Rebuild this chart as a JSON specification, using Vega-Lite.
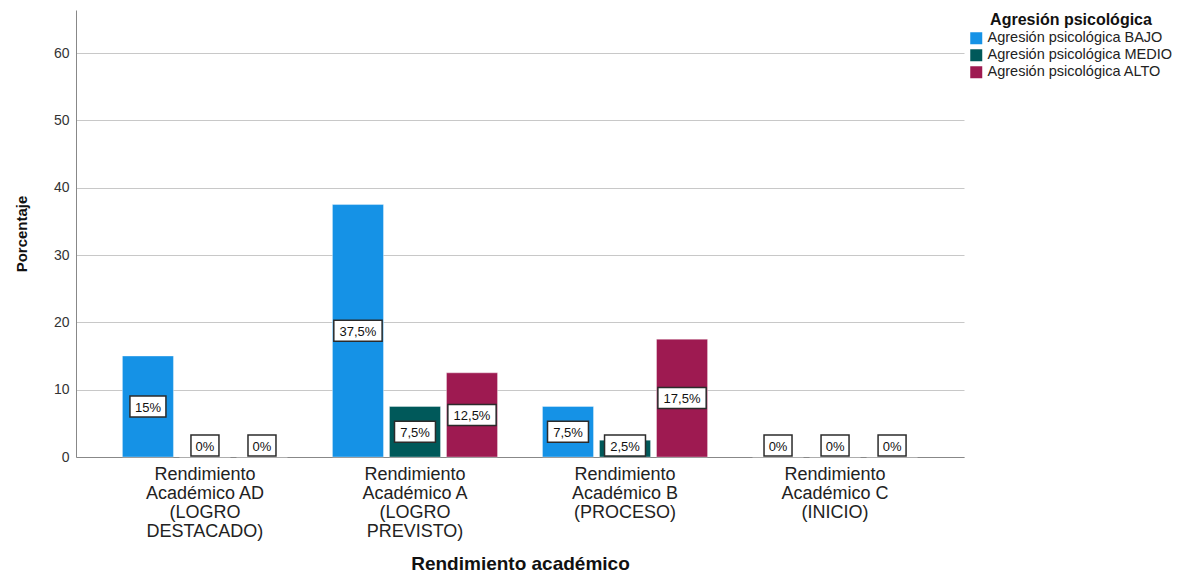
{
  "$schema": "https://vega.github.io/schema/vega-lite/v6.json",
  "autosize": "none",
  "width": 888,
  "height": 447,
  "padding": {"left": 76, "top": 10, "right": 218, "bottom": 119},
  "background": "white",
  "config": {
    "view": {"stroke": null},
    "font": "Liberation Sans"
  },
  "data": {
    "values": [
      {"rend": "Rendimiento Académico AD (LOGRO DESTACADO)", "agr": "Agresión psicológica BAJO", "pct": 15},
      {"rend": "Rendimiento Académico AD (LOGRO DESTACADO)", "agr": "Agresión psicológica MEDIO", "pct": 0},
      {"rend": "Rendimiento Académico AD (LOGRO DESTACADO)", "agr": "Agresión psicológica ALTO", "pct": 0},
      {"rend": "Rendimiento Académico A (LOGRO PREVISTO)", "agr": "Agresión psicológica BAJO", "pct": 37.5},
      {"rend": "Rendimiento Académico A (LOGRO PREVISTO)", "agr": "Agresión psicológica MEDIO", "pct": 7.5},
      {"rend": "Rendimiento Académico A (LOGRO PREVISTO)", "agr": "Agresión psicológica ALTO", "pct": 12.5},
      {"rend": "Rendimiento Académico B (PROCESO)", "agr": "Agresión psicológica BAJO", "pct": 7.5},
      {"rend": "Rendimiento Académico B (PROCESO)", "agr": "Agresión psicológica MEDIO", "pct": 2.5},
      {"rend": "Rendimiento Académico B (PROCESO)", "agr": "Agresión psicológica ALTO", "pct": 17.5},
      {"rend": "Rendimiento Académico C (INICIO)", "agr": "Agresión psicológica BAJO", "pct": 0},
      {"rend": "Rendimiento Académico C (INICIO)", "agr": "Agresión psicológica MEDIO", "pct": 0},
      {"rend": "Rendimiento Académico C (INICIO)", "agr": "Agresión psicológica ALTO", "pct": 0}
    ]
  },
  "transform": [
    {"calculate": "replace(format(datum.pct, '.1~f'), '.', ',') + '%'", "as": "lbl"},
    {"calculate": "max(datum.pct / 2, 1.7)", "as": "lblpos"},
    {"calculate": "length(datum.lbl)", "as": "nch"}
  ],
  "encoding": {
    "x": {
      "field": "rend",
      "type": "nominal",
      "sort": null,
      "scale": {"paddingInner": 0.214, "paddingOuter": 0.221},
      "axis": {
        "title": "Rendimiento académico",
        "titleFontSize": 19,
        "titleFontWeight": "bold",
        "titleColor": "#111",
        "titlePadding": 14,
        "labelAngle": 0,
        "labelFontSize": 18,
        "labelLineHeight": 19,
        "labelColor": "#222",
        "labelPadding": 8,
        "labelBaseline": "top",
        "ticks": false,
        "domainColor": "#888",
        "labelExpr": "datum.value == 'Rendimiento Académico AD (LOGRO DESTACADO)' ? ['Rendimiento', 'Académico AD', '(LOGRO', 'DESTACADO)'] : datum.value == 'Rendimiento Académico A (LOGRO PREVISTO)' ? ['Rendimiento', 'Académico A', '(LOGRO', 'PREVISTO)'] : datum.value == 'Rendimiento Académico B (PROCESO)' ? ['Rendimiento', 'Académico B', '(PROCESO)'] : ['Rendimiento', 'Académico C', '(INICIO)']"
      }
    },
    "xOffset": {
      "field": "agr",
      "type": "nominal",
      "sort": ["Agresión psicológica BAJO", "Agresión psicológica MEDIO", "Agresión psicológica ALTO"],
      "scale": {"paddingInner": 0.105, "paddingOuter": 0}
    }
  },
  "layer": [
    {
      "mark": {"type": "bar", "stroke": "white", "strokeOpacity": 0.35, "strokeWidth": 1},
      "encoding": {
        "y": {
          "field": "pct",
          "type": "quantitative",
          "scale": {"domain": [0, 66.4], "nice": false},
          "axis": {
            "title": "Porcentaje",
            "titleFontSize": 15,
            "titleFontWeight": "bold",
            "titleColor": "#111",
            "titlePadding": 24,
            "values": [0, 10, 20, 30, 40, 50, 60],
            "labelFontSize": 14,
            "labelColor": "#333",
            "labelPadding": 7,
            "ticks": false,
            "domainColor": "#888",
            "gridColor": "#c8c8c8",
            "gridWidth": 1
          }
        },
        "color": {
          "field": "agr",
          "type": "nominal",
          "sort": ["Agresión psicológica BAJO", "Agresión psicológica MEDIO", "Agresión psicológica ALTO"],
          "scale": {"range": ["#1592e6", "#00595a", "#9e1a51"]},
          "legend": {
            "title": "Agresión psicológica",
            "orient": "none",
            "legendX": 893,
            "legendY": 2,
            "titleAnchor": "middle",
            "titleFontSize": 16,
            "titleFontWeight": "bold",
            "titleColor": "#111",
            "titlePadding": 3,
            "labelFontSize": 14.5,
            "labelLimit": 400,
            "labelColor": "#222",
            "labelOffset": 4,
            "symbolType": "square",
            "symbolSize": 144,
            "symbolStrokeWidth": 0,
            "rowPadding": 2
          }
        }
      }
    },
    {
      "mark": {"type": "point", "filled": true, "fill": "white", "fillOpacity": 1, "stroke": "#2b2b2b", "strokeWidth": 1.5, "opacity": 1, "size": 441},
      "encoding": {
        "y": {"field": "lblpos", "type": "quantitative"},
        "shape": {
          "field": "nch",
          "type": "ordinal",
          "scale": {
            "domain": [2, 3, 4, 5],
            "range": [
              "M-1.333,-1H1.333V1H-1.333Z",
              "M-1.714,-1H1.714V1H-1.714Z",
              "M-1.95,-1H1.95V1H-1.95Z",
              "M-2.3,-1H2.3V1H-2.3Z"
            ]
          },
          "legend": null
        }
      }
    },
    {
      "mark": {"type": "text", "fontSize": 13, "color": "#111", "baseline": "middle", "align": "center", "dy": 1},
      "encoding": {
        "y": {"field": "lblpos", "type": "quantitative"},
        "text": {"field": "lbl"}
      }
    }
  ]
}
